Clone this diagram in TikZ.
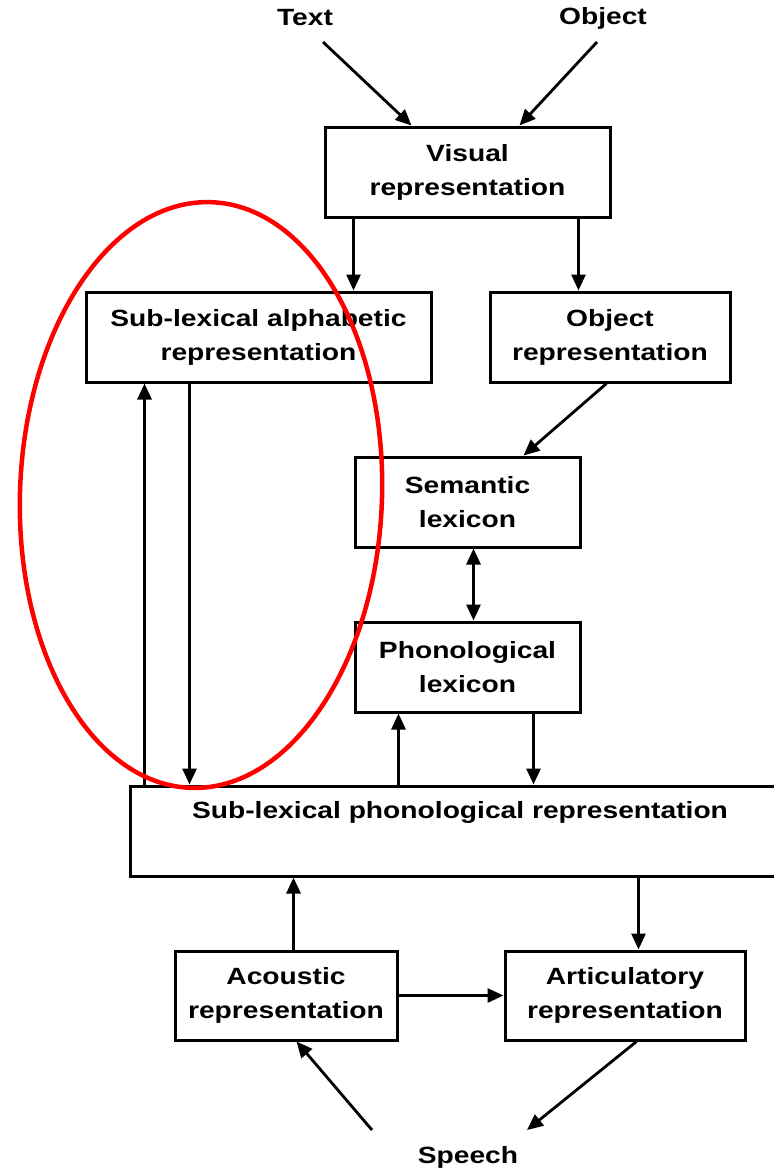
\documentclass[tikz,border=0pt]{standalone}
\usepackage{fontspec}
\newfontfamily\lblfont{Liberation Sans}[FakeStretch=1.2]
\usetikzlibrary{arrows.meta,calc}
\begin{document}
\begin{tikzpicture}[x=1pt,y=-1pt,
  every node/.style={font=\lblfont\bfseries\fontsize{23.5}{34}\selectfont, align=center},
  box/.style={draw, line width=3pt, minimum height=90pt, inner sep=0pt},
  lbl/.style={inner sep=1pt},
  arr/.style={line width=2.8pt, -{Triangle[length=16pt,width=14pt]}},
  dbl/.style={line width=2.8pt, {Triangle[length=16pt,width=14pt]}-{Triangle[length=16pt,width=14pt]}}
]
\clip (0,0) rectangle (774,1171);
\useasboundingbox (0,0) rectangle (774,1171);

\node[lbl] (txt) at (305,18) {Text};
\node[lbl] (obj) at (603,18) {Object};
\node[lbl] (speech) at (468,1157) {Speech};

\node[box, minimum width=285pt] (vis) at (467.5,172) {Visual\\representation};
\node[box, minimum width=345pt] (alpha) at (258.5,337) {Sub-lexical alphabetic\\representation};
\node[box, minimum width=240pt] (objrep) at (610,337) {Object\\representation};
\node[box, minimum width=225pt] (sem) at (467.5,502) {Semantic\\lexicon};
\node[box, minimum width=225pt] (phonlex) at (467.5,667) {Phonological\\lexicon};
\node[box, minimum width=690pt] (subphon) at (475,831) {};
\node[lbl] (subphontext) at (460,812) {Sub-lexical phonological representation};
\node[box, minimum width=222pt, minimum height=89pt] (acou) at (286,995.5) {Acoustic\\representation};
\node[box, minimum width=240pt, minimum height=89pt] (artic) at (625,995.5) {Articulatory\\representation};

\draw[arr] ($(txt.center)+(18,24)$) -- ($(vis.north west)+(88,0)$);
\draw[arr] ($(obj.center)+(-6,24)$) -- ($(vis.north west)+(196,0)$);
\draw[arr] ($(vis.south west)+(30,0)$) -- ($(alpha.north west)+(269,0)$);
\draw[arr] ($(vis.south west)+(255,0)$) -- ($(objrep.north west)+(90,0)$);
\draw[arr] ($(objrep.south west)+(118,0)$) -- ($(sem.north west)+(170,0)$);
\draw[dbl] ($(sem.south west)+(120,0)$) -- ($(phonlex.north west)+(120,0)$);
\draw[arr] ($(subphon.north west)+(270,0)$) -- ($(phonlex.south west)+(45,0)$);
\draw[arr] ($(phonlex.south west)+(180,0)$) -- ($(subphon.north west)+(405,0)$);
\draw[arr] ($(subphon.north west)+(16,0)$) -- ($(alpha.south west)+(60,0)$);
\draw[arr] ($(alpha.south west)+(105,0)$) -- ($(subphon.north west)+(61,0)$);
\draw[arr] ($(acou.north west)+(120,0)$) -- ($(subphon.south west)+(165,0)$);
\draw[arr] ($(subphon.south west)+(510,0)$) -- ($(artic.north west)+(135,0)$);
\draw[arr] (acou.east) -- (artic.west);
\draw[arr] ($(speech.center)+(-96,-27)$) -- ($(acou.south west)+(123,0)$);
\draw[arr] ($(artic.south west)+(133,0)$) -- ($(speech.center)+(59,-27)$);

\draw[red, line width=4.5pt, rotate around={-2:(201,495)}] (201,495) ellipse [x radius=181, y radius=293];
\end{tikzpicture}
\end{document}
